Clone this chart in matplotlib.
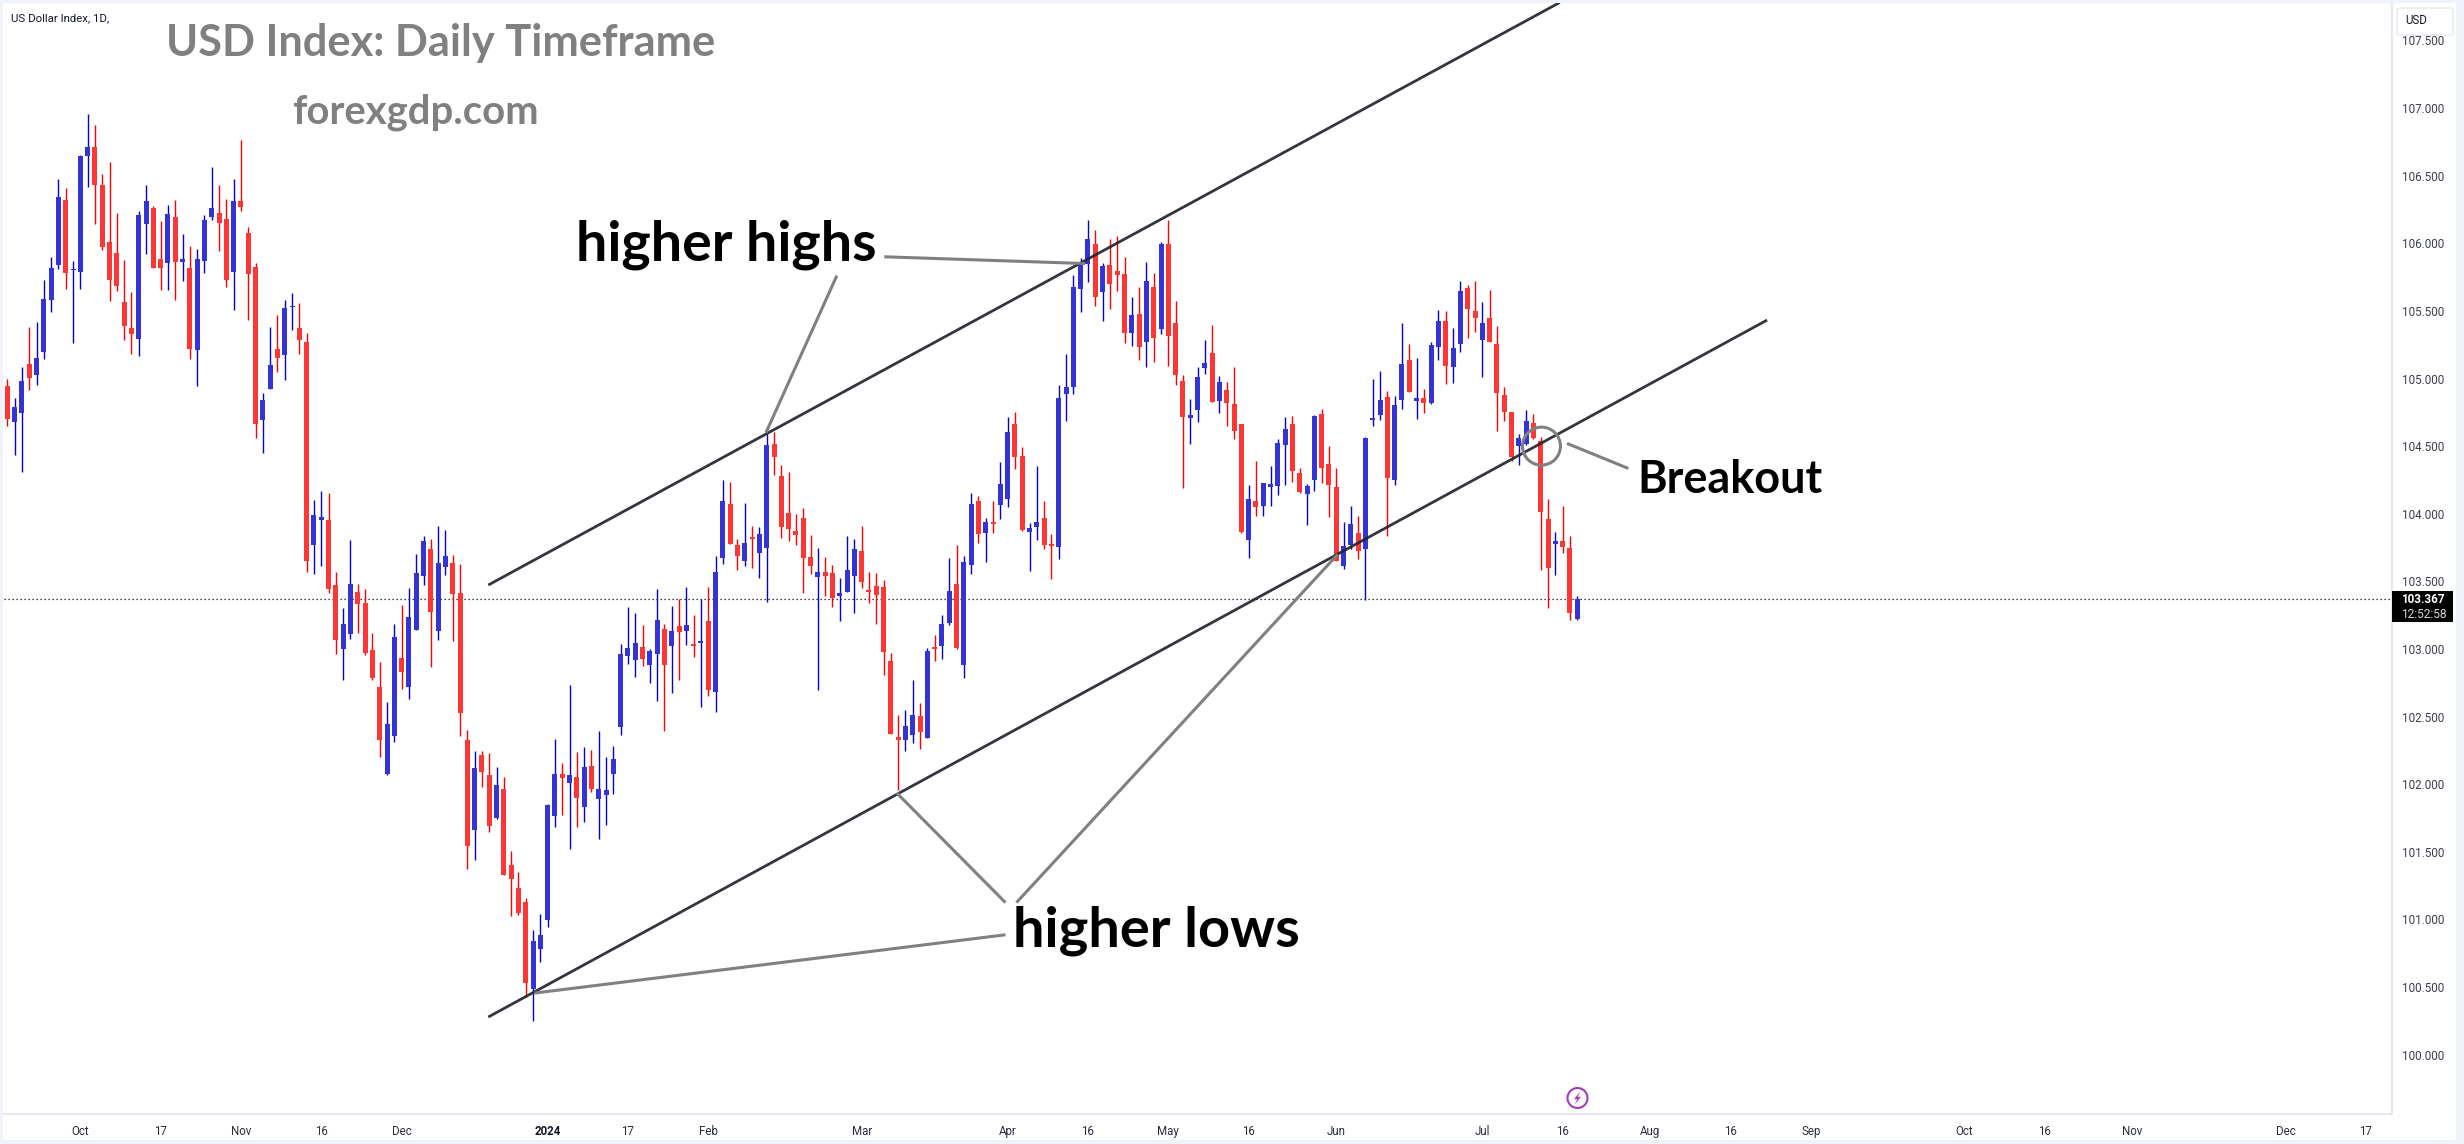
import matplotlib
matplotlib.use("Agg")
import matplotlib.pyplot as plt
from matplotlib.patches import Rectangle, FancyBboxPatch, Ellipse
import numpy as np

plt.rcParams['font.family'] = ['Roboto', 'DejaVu Sans']

# (high, body top, body bottom, low) per bar, price units
bars_hi = [104.994,104.857,105.084,105.380,105.417,105.728,105.897,106.476,106.410,105.868,106.652,106.956,106.874,106.513,106.600,106.225,105.876,105.638,106.238,106.431,106.275,106.164,106.283,106.320,106.069,105.979,105.958,106.209,106.563,106.431,106.328,106.476,106.763,106.119,105.852,104.894,105.380,105.469,105.580,105.633,105.559,105.337,104.102,104.168,104.155,
103.570,103.303,103.807,103.481,103.445,103.119,102.905,102.608,103.185,103.326,103.450,103.702,103.835,103.814,103.911,103.880,103.695,103.628,102.401,102.246,102.246,102.231,102.129,102.055,101.508,101.353,101.157,100.922,101.042,101.851,102.335,102.157,102.735,102.238,102.277,102.254,102.394,102.203,102.284,103.038,103.310,103.267,103.178,103.000,103.445,103.185,103.318,103.369,103.458,103.252,103.369,103.458,103.687,
104.250,104.234,103.811,104.081,103.909,103.901,104.590,104.604,104.361,104.308,103.999,104.044,103.843,103.748,103.679,103.621,103.526,103.835,103.814,103.909,103.568,103.563,103.510,102.972,102.512,102.549,102.771,102.602,103.009,103.104,103.252,103.674,103.769,103.687,104.155,104.131,103.970,104.094,104.382,104.715,104.751,104.493,103.930,104.353,104.094,103.851,104.952,105.179,105.765,105.892,106.172,106.098,105.853,106.032,106.053,105.898,105.602,105.676,105.861,105.779,106.008,106.172,105.570,105.026,104.849,105.084,
105.285,105.396,105.019,104.974,105.085,104.664,104.213,104.390,104.228,104.353,104.553,104.716,104.723,104.338,104.220,104.730,104.775,104.501,104.338,103.939,104.058,103.984,104.568,105.000,105.056,104.908,104.871,105.411,105.255,105.152,104.923,105.270,105.507,105.499,105.374,105.721,105.692,105.721,105.566,105.655,105.388,104.937,104.753,104.590,104.767,104.738,104.568,104.109,103.865,104.058,103.836,103.392]
bars_top = [104.944,104.788,104.981,105.108,105.153,105.588,105.818,106.341,106.320,105.810,106.645,106.711,106.711,106.431,106.008,105.929,105.565,105.374,106.209,106.312,106.262,105.884,106.217,106.193,105.884,105.818,105.884,106.172,106.262,106.225,106.180,106.312,106.312,106.077,105.823,104.841,105.100,105.219,105.522,105.536,105.374,105.269,103.991,103.975,103.954,
103.473,103.185,103.481,103.422,103.341,102.992,102.720,102.447,103.089,102.933,103.236,103.562,103.799,103.740,103.636,103.687,103.636,103.415,102.328,102.121,102.218,102.068,101.994,101.966,101.403,101.233,101.131,100.841,100.887,101.846,102.075,102.075,102.068,102.055,102.129,102.137,101.966,101.958,102.187,102.964,103.007,103.045,103.015,102.987,103.216,103.147,103.135,103.170,103.178,103.038,103.054,103.208,103.570,
104.094,104.073,103.769,103.785,103.825,103.851,104.509,104.516,104.279,104.007,103.872,103.970,103.679,103.568,103.568,103.563,103.415,103.584,103.740,103.724,103.436,103.465,103.458,102.911,102.349,102.430,102.512,102.504,102.985,103.012,103.186,103.429,103.481,103.642,104.073,104.094,103.938,103.938,104.221,104.604,104.664,104.427,103.896,103.938,103.970,103.771,104.857,104.936,105.676,105.845,106.032,105.995,105.831,105.839,105.795,105.773,105.470,105.478,105.721,105.676,105.995,105.995,105.412,104.981,104.730,105.010,
105.115,105.189,104.974,104.915,104.812,104.664,104.109,104.094,104.228,104.220,104.523,104.627,104.664,104.302,104.205,104.723,104.738,104.368,104.198,103.762,103.924,103.858,104.560,104.708,104.841,104.863,104.804,105.107,105.137,104.856,104.856,105.248,105.425,105.425,105.226,105.647,105.669,105.499,105.411,105.448,105.255,104.878,104.753,104.560,104.686,104.671,104.538,103.961,103.799,103.799,103.747,103.370]
bars_bot = [104.704,104.677,104.746,105.005,105.026,105.195,105.580,105.839,105.781,105.800,105.786,106.645,106.431,105.971,105.728,105.683,105.388,105.330,105.293,106.143,105.818,105.818,105.855,105.860,105.860,105.219,105.213,105.868,106.193,106.151,105.728,105.786,106.267,105.773,104.664,104.693,104.923,105.153,105.174,105.526,105.285,103.650,103.769,103.954,103.444,
103.066,103.000,103.112,103.333,102.972,102.786,102.328,102.075,102.358,102.832,102.720,103.142,103.539,103.275,103.135,103.606,103.407,102.529,101.543,101.663,102.091,101.691,101.752,101.330,101.299,101.050,100.533,100.487,100.782,100.996,101.765,102.047,102.009,101.900,101.834,101.966,101.892,101.920,102.075,102.424,102.949,102.918,102.926,102.883,102.964,102.883,103.023,103.127,103.135,103.023,103.044,102.697,102.681,
103.674,103.777,103.687,103.650,103.815,103.711,103.748,104.419,103.901,103.888,103.843,103.674,103.613,103.531,103.539,103.378,103.394,103.421,103.539,103.495,103.421,103.399,102.977,102.372,102.330,102.327,102.367,102.386,102.341,103.002,103.022,103.194,103.006,102.882,103.621,103.851,103.859,103.925,104.065,104.110,104.419,103.880,103.864,103.901,103.769,103.761,103.753,104.886,104.936,105.662,105.847,105.602,105.639,105.699,105.765,105.338,105.338,105.232,105.269,105.301,105.367,105.314,105.026,104.712,104.709,104.770,
105.078,104.826,104.834,104.819,104.612,103.865,103.806,104.050,104.058,104.198,104.205,104.509,104.316,104.161,104.146,104.250,104.338,104.213,103.651,103.614,103.769,103.725,103.740,104.693,104.730,104.265,104.250,104.841,104.900,104.834,104.819,104.817,105.233,105.093,105.085,105.255,105.514,105.448,105.285,105.270,104.893,104.753,104.420,104.501,104.516,104.560,104.013,103.599,103.777,103.754,103.266,103.222]
bars_lo = [104.651,104.434,104.310,104.915,104.952,105.145,105.491,105.810,105.662,105.263,105.662,106.415,106.143,105.950,105.572,105.646,105.285,105.182,105.166,105.921,105.818,105.654,105.654,105.580,105.720,105.145,104.944,105.781,106.172,105.942,105.675,105.506,106.238,105.433,104.561,104.450,104.923,105.047,104.989,105.359,105.182,103.573,103.555,103.613,103.415,
102.964,102.771,103.073,103.119,102.956,102.771,102.198,102.065,102.312,102.704,102.630,103.142,103.473,102.867,103.066,103.547,103.061,102.358,101.375,101.442,101.981,101.648,101.745,101.330,101.027,101.034,100.426,100.250,100.686,100.945,101.683,101.773,101.523,101.683,101.722,101.943,101.597,101.699,101.928,102.366,102.890,102.793,102.875,102.750,102.615,102.394,102.676,102.771,103.030,102.941,102.572,102.653,102.534,
103.629,103.777,103.584,103.616,103.600,103.526,103.349,104.287,103.822,103.798,103.769,103.415,103.555,102.697,103.389,103.310,103.204,103.421,103.267,103.452,103.341,103.186,102.808,102.372,101.957,102.248,102.306,102.261,102.341,102.914,102.927,103.178,102.998,102.789,103.555,103.785,103.642,103.859,103.962,104.049,104.332,103.872,103.576,103.806,103.740,103.518,103.666,104.685,104.886,105.491,105.713,105.536,105.425,105.515,105.647,105.264,105.237,105.137,105.084,105.121,105.330,105.092,104.952,104.194,104.516,104.678,
105.033,104.826,104.743,104.649,104.553,103.858,103.673,103.984,103.984,104.058,104.139,104.213,104.235,104.154,103.917,104.168,104.228,103.976,103.651,103.592,103.737,103.666,103.363,104.649,104.693,103.836,104.213,104.775,104.900,104.701,104.745,104.812,105.137,104.960,104.967,105.196,105.300,105.344,105.011,105.270,104.612,104.686,104.390,104.361,104.509,104.553,103.584,103.303,103.547,103.710,103.215,103.215]
# indices of rising (blue) bars; all others are falling (red)
up_bars = {1,2,4,5,6,7,9,10,11,18,19,22,24,26,27,28,31,35,36,38,39,42,43,
           46,47,52,53,55,56,57,59,60,64,67,72,73,74,75,77,79,81,82,83,84,85,86,88,89,91,93,95,97,
           98,101,103,104,111,114,115,116,123,124,126,128,129,131,132,134,136,137,140,141,144,145,146,147,148,150,154,156,158,162,163,
           164,166,170,172,173,174,175,178,179,183,184,186,187,188,190,191,193,195,196,198,199,202,207,208,212,215}

price_ticks = [107.5,107.0,106.5,106.0,105.5,105.0,104.5,104.0,103.5,103.0,102.5,102.0,101.5,101.0,100.5,100.0]
last_price = 103.367
countdown = "12:52:58"
date_ticks = [10,21,32,43,54,74,85,96,117,137,148,159,170,182,202,213,225,236,247,268,279,291,312,323]
date_labels = ["Oct","17","Nov","16","Dec","2024","17","Feb","Mar","Apr","16","May","16","Jun","Jul","16","Aug","16","Sep","Oct","16","Nov","Dec","17"]

# drawn trend lines: (bar, price) end points
channel_upper = [(65.87,103.473),(212.6,107.78)]
channel_lower = [(65.87,100.279),(241.0,105.432)]
pointer_lines = [
    [(120.1,105.9),(147.6,105.85)],
    [(113.6,105.76),(103.9,104.6)],
    [(136.7,101.125),(121.8,101.936)],
    [(138.2,101.125),(182.2,103.7)],
    [(136.7,100.887),(72.2,100.456)],
    [(213.6,104.52),(222,104.335)],
]
breakout_centre = (210.1,104.5)

W, H = 2464, 1144
fig = plt.figure(figsize=(W/100, H/100), dpi=100, facecolor='white')
L, R, T, B = 4, 2392, 3, 1114
ax = fig.add_axes([L/W, 1-B/H, (R-L)/W, (B-T)/H])
PX_PER_BAR = 7.302
PX_PER_PRICE = 135.25
ax.set_xlim((L-7.3)/PX_PER_BAR, (R-7.3)/PX_PER_BAR)
ax.set_ylim(107-(B-108)/PX_PER_PRICE, 107-(T-108)/PX_PER_PRICE)

BLUE, BLUE_W = '#3434D6', '#0000D8'
RED, RED_W = '#FF3636', '#FF0000'
n = len(bars_hi)
idx = np.arange(n)
is_up = np.array([i in up_bars for i in idx])
wick_cols = [BLUE_W if u else RED_W for u in is_up]
body_cols = [BLUE if u else RED for u in is_up]
ax.vlines(idx, bars_lo, bars_hi, colors=wick_cols, linewidth=1.0, zorder=3)
top = np.array(bars_top); bot = np.array(bars_bot)
ax.bar(idx, np.maximum(top-bot, 0.012), bottom=bot, width=5/PX_PER_BAR, color=body_cols, linewidth=0, zorder=4)

ax.axhline(last_price, color='black', linestyle=(0,(1,2.2)), linewidth=0.9, zorder=2)

for ln in (channel_upper, channel_lower):
    xs, ys = zip(*ln)
    ax.plot(xs, ys, color='#22252E', linewidth=2.0, alpha=0.92, zorder=6, solid_capstyle='butt')
for ln in pointer_lines:
    xs, ys = zip(*ln)
    ax.plot(xs, ys, color='#808080', linewidth=2.2, zorder=6, solid_capstyle='butt')
ax.add_patch(Ellipse(breakout_centre, 38/PX_PER_BAR, 38/PX_PER_PRICE, fill=False, edgecolor='#808080', linewidth=2.2, zorder=7))

ax.set_xticks(date_ticks)
ax.set_xticklabels(date_labels, fontsize=8.3, color='#2A2E39')
for lab, txt in zip(ax.get_xticklabels(), date_labels):
    if txt == "2024":
        lab.set_fontweight('bold'); lab.set_color('#131722')
ax.tick_params(axis='x', length=0, pad=8)
ax.yaxis.tick_right()
ax.set_yticks(price_ticks)
ax.set_yticklabels([f"{p:.3f}" for p in price_ticks], fontsize=8.4, color='#3A3E49')
ax.tick_params(axis='y', length=0, pad=7)
for s in ('top','left'):
    ax.spines[s].set_visible(False)
for s in ('right','bottom'):
    ax.spines[s].set_color('#E0E3EB'); ax.spines[s].set_linewidth(1.2)

def fx(px): return px/W
def fy(py): return 1-py/H

# outer frame
for r in [(0,0,W,2.5),(0,H-4,W,4),(0,0,3,H),(W-8,0,8,H)]:
    fig.add_artist(Rectangle((fx(r[0]), fy(r[1]+r[3])), r[2]/W, r[3]/H, transform=fig.transFigure, fc='#F0F3FA', ec='none', zorder=0))

# USD box
fig.add_artist(FancyBboxPatch((fx(2397), fy(35)), 56/W, 27/H, boxstyle="round,pad=0,rounding_size=0.002", mutation_aspect=H/W,
    transform=fig.transFigure, fc='white', ec='#E6E8EF', lw=1, zorder=5))
fig.text(fx(2405), fy(20.5), "USD", fontsize=8.3, color='#131722', va='center', ha='left', zorder=6)

# last price box
fig.add_artist(Rectangle((fx(2392), fy(622)), 61/W, 31/H, transform=fig.transFigure, fc='black', ec='none', zorder=5))
fig.text(fx(2401), fy(599.5), f"{last_price:.3f}", fontsize=8.4, color='white', fontweight='bold', va='center', ha='left', zorder=6)
fig.text(fx(2401), fy(614), countdown, fontsize=8.6, color='#D8D8D8', va='center', ha='left', zorder=6)

# lightning badge
cx, cy = 1577.5, 1098
fig.add_artist(Ellipse((fx(cx), fy(cy)), 20/W, 20/H, transform=fig.transFigure, fc='white', ec='#A23BC0', lw=1.5, zorder=5))
bx = np.array([2.8,-3.5,-0.3,-2.8,3.5,0.3]); by = np.array([-6.5,1.2,1.2,6.5,-1.2,-1.2])
fig.add_artist(plt.Polygon(np.c_[fx(cx+bx), fy(cy+by)], closed=True, transform=fig.transFigure, fc='#A23BC0', ec='none', zorder=6))

fig.text(fx(11), fy(18), "US Dollar Index, 1D,", fontsize=8.2, color='#131722', va='center', ha='left')
HEAD = ['Lato', 'DejaVu Sans']
fig.text(fx(166), fy(43), "USD Index: Daily Timeframe", fontsize=31.2, fontweight='bold', color='#808080', family=HEAD, va='center', ha='left')
fig.text(fx(292), fy(112), "forexgdp.com", fontsize=28.8, fontweight='bold', color='#808080', family=HEAD, va='center', ha='left')
fig.text(fx(576), fy(245), "higher highs", fontsize=40, fontweight='bold', color='black', family=HEAD, va='center', ha='left', zorder=8)
fig.text(fx(1013), fy(931), "higher lows", fontsize=40.3, fontweight='bold', color='black', family=HEAD, va='center', ha='left', zorder=8)
fig.text(fx(1637), fy(480), "Breakout", fontsize=32.4, fontweight='bold', color='black', family=HEAD, va='center', ha='left', zorder=8)

fig.savefig("out.png", dpi=100, facecolor='white')
